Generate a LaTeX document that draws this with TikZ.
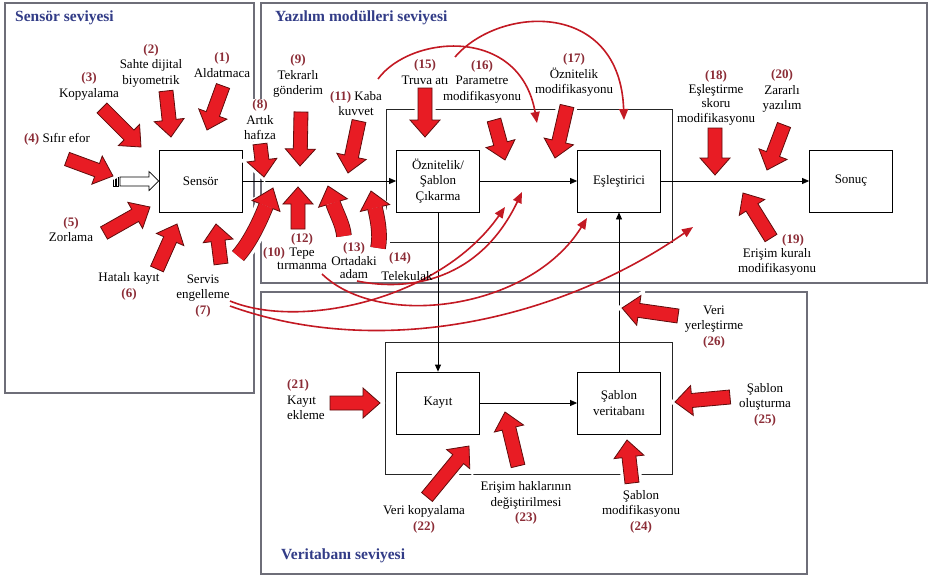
\documentclass[tikz,border=0pt]{standalone}
\usepackage{fontspec}
\setmainfont{Liberation Serif}
\usetikzlibrary{arrows.meta,calc}

\definecolor{numred}{RGB}{140,45,55}
\definecolor{titleblue}{RGB}{50,60,135}
\definecolor{attackfill}{RGB}{232,28,36}
\definecolor{attackedge}{RGB}{95,12,12}
\definecolor{arcred}{RGB}{195,25,35}
\definecolor{panelgray}{RGB}{110,110,120}

\newcommand\nm[1]{{\color{numred}\bfseries #1}}

\tikzset{
  panel/.style={draw=panelgray, line width=1.1pt},
  innerframe/.style={draw=black!85, line width=0.7pt},
  module/.style={draw=black, line width=0.8pt, fill=white, minimum width=83pt,
    minimum height=62pt, align=center, inner sep=1pt, font=\fontsize{13}{15.5}\selectfont},
  flow/.style={draw=black, line width=0.8pt, -{Triangle[length=7pt,width=6pt]}},
  lbl/.style={align=center, font=\fontsize{13}{15.5}\selectfont, inner sep=1pt},
  tightlbl/.style={align=center, font=\fontsize{13}{13.5}\selectfont, inner sep=1pt},
  leveltitle/.style={font=\fontsize{15.5}{17}\selectfont\bfseries, text=titleblue, inner sep=0pt},
  attack/.style={fill=attackfill, draw=attackedge, line width=0.8pt, line join=miter},
  halo/.style={draw=white, fill=white, line width=7pt},
  arcarrow/.style={draw=arcred, line width=1.6pt, -{Triangle[length=11pt,width=9pt]}},
}

% straight block arrow from tail (#2,#3) to tip (#4,#5), drawn with style #1
\newcommand\blockarrow[5]{%
  \pgfmathsetmacro\baAng{atan2(#3-#5,#4-#2)}%
  \pgfmathsetmacro\baLen{veclen(#4-#2,#5-#3)}%
  \pgfmathsetmacro\baNeck{\baLen-17}%
  \begin{scope}[shift={(#2,#3)},rotate=\baAng]
    \path[#1] (0,-7) -- (\baNeck,-7) -- (\baNeck,-15) -- (\baLen,0)
      -- (\baNeck,15) -- (\baNeck,7) -- (0,7) -- cycle;
  \end{scope}}

% curved block arrow: start, two controls, head base, tip
\newcommand\curvedblock[5]{%
  \draw[white, line width=22pt] #1 .. controls #2 and #3 .. #4;
  \fill[white] ($#4!19pt!90:#5$) -- ($#5!4pt!0:#4$) -- ($#4!19pt!-90:#5$) -- cycle;
  \draw[attackedge, line width=15.6pt] #1 .. controls #2 and #3 .. #4;
  \draw[attackfill, line width=14pt] #1 .. controls #2 and #3 .. #4;
  \filldraw[attack] ($#4!7pt!90:#5$) -- ($#4!15pt!90:#5$) -- #5
    -- ($#4!15pt!-90:#5$) -- ($#4!7pt!-90:#5$);}

\newcommand\straightattacks[1]{%
  \blockarrow{#1}{223}{86}{207}{130}%   1
  \blockarrow{#1}{166}{91}{171}{137}%   2
  \blockarrow{#1}{102}{108}{141}{147}%  3
  \blockarrow{#1}{67}{159}{113}{176}%   4
  \blockarrow{#1}{104}{233}{150}{207}%  5
  \blockarrow{#1}{157}{269}{177}{224}%  6
  \blockarrow{#1}{221}{264}{216}{224}%  7
  \blockarrow{#1}{260}{144}{264}{177}%  8
  \blockarrow{#1}{301}{112}{300}{166}%  9
  \blockarrow{#1}{359}{121}{348}{173}%  11
  \blockarrow{#1}{298}{229}{298}{187}%  12
  \blockarrow{#1}{425}{88}{425}{137}%   15
  \blockarrow{#1}{494}{120}{505}{160}%  16
  \blockarrow{#1}{567}{106}{555}{158}%  17
  \blockarrow{#1}{715}{128}{715}{175}%  18
  \blockarrow{#1}{771}{238}{743}{193}%  19
  \blockarrow{#1}{784}{125}{767}{170}%  20
  \blockarrow{#1}{330}{403}{380}{403}%  21
  \blockarrow{#1}{427}{497}{469}{446}%  22
  \blockarrow{#1}{518}{466}{505}{412}%  23
  \blockarrow{#1}{632}{483}{627}{440}%  24
  \blockarrow{#1}{730}{397}{675}{402}%  25
  \blockarrow{#1}{678}{316}{622}{308}%  26
}

\begin{document}
\begin{tikzpicture}[x=1pt,y=-1pt]
\useasboundingbox (0,0) rectangle (929,576);
\fill[white] (0,0) rectangle (929,576);

% level panels
\draw[panel] (5,3) rectangle (254,393);
\draw[panel] (261,3) rectangle (927,283);
\draw[panel] (261,292) rectangle (807,574);
\node[leveltitle, anchor=west] (tsensor) at (15,18) {Sensör seviyesi};
\node[leveltitle, anchor=west] (tsoft) at (275,18) {Yazılım modülleri seviyesi};
\node[leveltitle, anchor=west] (tdb) at (281,556) {Veritabanı seviyesi};

% inner frames
\draw[innerframe] (386,109) rectangle (672,242);
\draw[innerframe] (385,342) rectangle (672,474);

% modules
\node[module] (sensor) at (200.5,181) {Sensör};
\node[module] (extract) at (438,181) {Öznitelik/\\Şablon\\Çıkarma};
\node[module] (matcher) at (619,181) {Eşleştirici};
\node[module] (result) at (851,181) {Sonuç};
\node[module] (enroll) at (438,403) {Kayıt};
\node[module] (tpldb) at (619,403) {Şablon\\veritabanı};

% data flow
\draw[flow] (sensor.east) -- (extract.west);
\draw[flow] (extract.east) -- (matcher.west);
\draw[flow] (matcher.east) -- (result.west);
\draw[flow] (extract.south) -- (enroll.north);
\draw[flow] (enroll.east) -- (tpldb.west);
\draw[flow] (tpldb.north) -- (matcher.south);

% biometric input (hollow striped arrow)
\draw[line width=0.7pt, fill=white] (120,177) -- (149,177) -- (149,171.5) -- (sensor.west)
  -- (149,190.5) -- (149,186) -- (120,186) -- cycle;
\draw[line width=0.7pt, fill=white] (113,177) rectangle (115,186);
\draw[line width=0.7pt, fill=white] (116.5,177) rectangle (118.5,186);

% thin attack arcs
\coordinate (a1s) at (378,79);   \coordinate (a1e) at (537,123);
\coordinate (a2s) at (455,57);   \coordinate (a2e) at (624,120);
\coordinate (b1s) at (357,281);  \coordinate (b1e) at (522,192);
\coordinate (b2s) at (230,301);  \coordinate (b2e) at (505,207);
\coordinate (b3s) at (322,274);  \coordinate (b3e) at (587,218);
\coordinate (b4s) at (230,306);  \coordinate (b4e) at (693,227);
\draw[arcarrow] (a1s) .. controls (410,35) and (520,25) .. (a1e);
\draw[arcarrow] (a2s) .. controls (500,5) and (620,0) .. (a2e);
\draw[arcarrow] (b1s) .. controls (410,292) and (480,280) .. (b1e);
\draw[arcarrow] (b2s) .. controls (300,330) and (440,300) .. (b2e);
\draw[arcarrow] (b3s) .. controls (380,330) and (530,310) .. (b3e);
\draw[arcarrow] (b4s) .. controls (380,360) and (560,320) .. (b4e);

% attack labels
\node[lbl] (l1) at (222,65) {\nm{(1)}\\Aldatmaca};
\node[lbl] (l2) at (151,65.5) {\nm{(2)}\\Sahte dijital\\biyometrik};
\node[lbl] (l3) at (89,86.5) {\nm{(3)}\\Kopyalama};
\node[lbl] (l4) at (57,139) {\nm{(4)} Sıfır efor};
\node[lbl] (l5) at (71,229.5) {\nm{(5)}\\Zorlama};
\node[lbl] (l6) at (129,286.5) {Hatalı kayıt\\\nm{(6)}};
\node[lbl] (l7) at (203,296) {Servis\\engelleme\\\nm{(7)}};
\node[lbl, fill=white] (l8) at (260,120) {\nm{(8)}\\Artık\\hafıza};
\node[lbl] (l9) at (298,76) {\nm{(9)}\\Tekrarlı\\gönderim};
\node[lbl] (l10) at (274,253) {\nm{(10)}};
\node[lbl] (l11) at (356,103.5) {\nm{(11)} Kaba\\kuvvet};
\node[tightlbl] (l12) at (302,252) {\nm{(12)}\\Tepe\\tırmanma};
\node[tightlbl] (l13) at (354,261) {\nm{(13)}\\Ortadaki\\adam};
\node[lbl] (l14n) at (400,258) {\nm{(14)}};
\node[lbl] (l14) at (407,276) {Telekulak};
\node[lbl] (l15) at (425,72) {\nm{(15)}\\Truva atı};
\node[lbl] (l16) at (482,81.5) {\nm{(16)}\\Parametre\\modifikasyonu};
\node[lbl] (l17) at (574,75) {\nm{(17)}\\Öznitelik\\modifikasyonu};
\node[lbl, font=\fontsize{13}{14.3}\selectfont] (l18) at (716,97.5) {\nm{(18)}\\Eşleştirme\\skoru\\modifikasyonu};
\node[lbl] (l19n) at (793,240) {\nm{(19)}};
\node[lbl, font=\fontsize{13}{14.5}\selectfont] (l19) at (777,262) {Erişim kuralı\\modifikasyonu};
\node[lbl] (l20) at (782,91) {\nm{(20)}\\Zararlı\\yazılım};
\node[lbl, align=left, anchor=west] (l21) at (286,400) {\nm{(21)}\\Kayıt\\ekleme};
\node[lbl] (l22) at (424,519.5) {Veri kopyalama\\\nm{(22)}};
\node[lbl] (l23) at (526,503) {Erişim haklarının\\değiştirilmesi\\\nm{(23)}};
\node[lbl] (l24) at (641,511.5) {Şablon\\modifikasyonu\\\nm{(24)}};
\node[lbl] (l25) at (765,404.5) {Şablon\\oluşturma\\\nm{(25)}};
\node[lbl] (l26) at (714,327) {Veri\\yerleştirme\\\nm{(26)}};

% block attack arrows
\straightattacks{halo}
\curvedblock{(238,256)}{(252,240)}{(262,216)}{(266,206)}{(273,188)}
\curvedblock{(344,236)}{(343,224)}{(335.5,211.5)}{(333,203)}{(328,186)}
\curvedblock{(378,248)}{(381,234)}{(377,216.5)}{(375,208)}{(371,191)}
\straightattacks{attack}
\end{tikzpicture}
\end{document}
